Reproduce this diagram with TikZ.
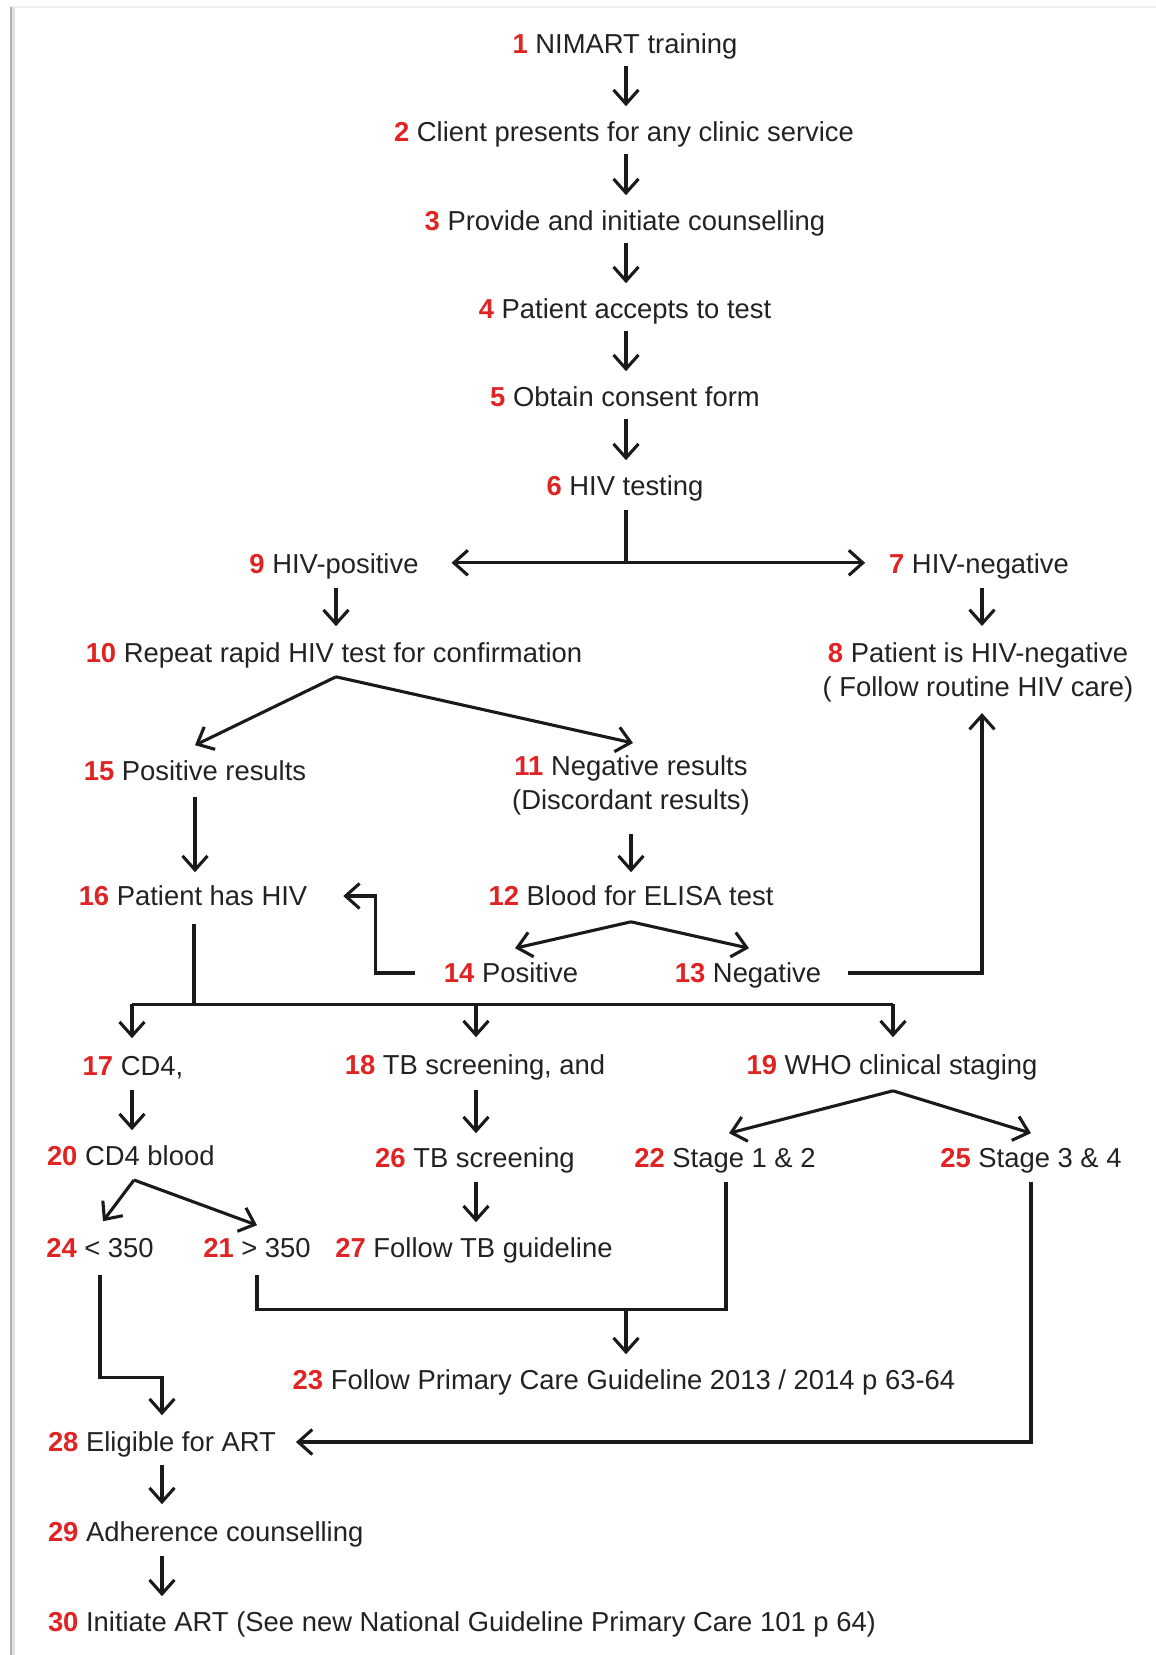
\documentclass[tikz,border=0pt]{standalone}
\usepackage{fontspec}
\setmainfont{Liberation Sans}
\usetikzlibrary{arrows.meta,calc}
\definecolor{txt}{HTML}{222222}
\definecolor{num}{HTML}{E02424}
\definecolor{ln}{HTML}{1A1A1A}
\newcommand{\nb}[1]{\textbf{\textcolor{num}{#1}}}
\begin{document}
\begin{tikzpicture}[x=1pt,y=-1pt,
  lbl/.style={inner sep=0pt, outer sep=0pt, text=txt, font=\fontsize{27.4}{33}\selectfont, text height=19.6pt, text depth=0pt},
  ml/.style={inner sep=0pt, outer sep=0pt, text=txt, font=\fontsize{27.4}{33.5}\selectfont, align=center},
  conn/.style={draw=ln, line width=3.1pt},
  arr/.style={conn, -{Straight Barb[length=14pt,width=25pt]}},
  frameline/.style={line width=2.5pt}
]
\useasboundingbox (0,0) rectangle (1156,1655);
% frame
\draw[frameline, gray!12] (11,7) -- (1156,7);
\draw[frameline, gray!25] (13.5,7) -- (13.5,1655);
\draw[frameline, gray!60] (11,7) -- (11,1655);

% nodes
\node[lbl] (n1) at (625,44) {\nb{1} NIMART training};
\node[lbl] (n2) at (624,132) {\nb{2} Client presents for any clinic service};
\node[lbl] (n3) at (625,221) {\nb{3} Provide and initiate counselling};
\node[lbl] (n4) at (625,309) {\nb{4} Patient accepts to test};
\node[lbl] (n5) at (625,397) {\nb{5} Obtain consent form};
\node[lbl] (n6) at (625,486) {\nb{6} HIV testing};
\node[lbl] (n9) at (334,564) {\nb{9} HIV-positive};
\node[lbl] (n7) at (979,564) {\nb{7} HIV-negative};
\node[lbl] (n10) at (334,653) {\nb{10} Repeat rapid HIV test for confirmation};
\node[ml, anchor=north] (n8) at (978,643) {\nb{8} Patient is HIV-negative\\( Follow routine HIV care)};
\node[lbl] (n15) at (195,771) {\nb{15} Positive results};
\node[ml, anchor=north] (n11) at (631,756) {\nb{11} Negative results\\(Discordant results)};
\node[lbl] (n16) at (193,896) {\nb{16} Patient has HIV};
\node[lbl] (n12) at (631,896) {\nb{12} Blood for ELISA test};
\node[lbl] (n14) at (511,973) {\nb{14} Positive};
\node[lbl] (n13) at (748,973) {\nb{13} Negative};
\node[lbl] (n17) at (133,1066) {\nb{17} CD4,};
\node[lbl] (n18) at (475,1065) {\nb{18} TB screening, and};
\node[lbl] (n19) at (892,1065) {\nb{19} WHO clinical staging};
\node[lbl, anchor=west] (n20) at (47,1156) {\nb{20} CD4 blood};
\node[lbl] (n26) at (475,1158) {\nb{26} TB screening};
\node[lbl] (n22) at (725,1158) {\nb{22} Stage 1 \& 2};
\node[lbl] (n25) at (1031,1158) {\nb{25} Stage 3 \& 4};
\node[lbl] (n24) at (100,1248) {\nb{24} < 350};
\node[lbl] (n21) at (257,1248) {\nb{21} > 350};
\node[lbl] (n27) at (474,1248) {\nb{27} Follow TB guideline};
\node[lbl] (n23) at (624,1380) {\nb{23} Follow Primary Care Guideline 2013 / 2014 p 63-64};
\node[lbl, anchor=west] (n28) at (48,1442) {\nb{28} Eligible for ART};
\node[lbl, anchor=west] (n29) at (48,1532) {\nb{29} Adherence counselling};
\node[lbl, anchor=west] (n30) at (48,1622) {\nb{30} Initiate ART (See new National Guideline Primary Care 101 p 64)};

% main column
\draw[arr] ($(n1.south)+(1,12)$) -- ($(n1.south |- n2.north)+(1,-16)$);
\draw[arr] ($(n2.south)+(2,12)$) -- ($(n2.south |- n3.north)+(2,-16)$);
\draw[arr] ($(n3.south)+(1,12)$) -- ($(n3.south |- n4.north)+(1,-16)$);
\draw[arr] ($(n4.south)+(1,12)$) -- ($(n4.south |- n5.north)+(1,-16)$);
\draw[arr] ($(n5.south)+(1,12)$) -- ($(n5.south |- n6.north)+(1,-16)$);

% split at HIV testing
\coordinate (s6) at ($(n6.south)+(1,67)$);
\draw[conn] ($(n6.south)+(1,14)$) -- (s6);
\draw[arr] (s6) -- ($(n9.east |- s6)+(33,0)$);
\draw[arr] (s6) -- ($(n7.west |- s6)+(-24,0)$);

\draw[arr] ($(n9.south)+(2,14)$) -- ($(n9.south |- n10.north)+(2,-17)$);
\draw[arr] ($(n7.south)+(3,14)$) -- ($(n7.south |- n8.north)+(3,-17)$);

% split at repeat test
\coordinate (s10) at ($(n10.south)+(2,14)$);
\draw[arr] (s10) -- ($(n15.north)+(0,-16)$);
\draw[arr] (s10) -- ($(n11.north)+(2,-13)$);

\draw[arr] ($(n15.south)+(0,16)$) -- ($(n15.south |- n16.north)+(0,-14)$);
\draw[arr] ($(n11.south)+(0,19)$) -- ($(n12.north)+(0,-14)$);

% split at ELISA
\coordinate (s12) at ($(n12.south)+(0,16)$);
\draw[arr] (s12) -- ($(n14.north)+(4,-15)$);
\draw[arr] (s12) -- ($(n13.north)+(1,-15)$);

\draw[arr] ($(n14.west)+(-29,0)$) -| ($(n16.east)+(68,0)$) -- ($(n16.east)+(36,0)$);
\draw[arr] ($(n13.east)+(27,0)$) -| ($(n8.south)+(4,11)$);

% bus below Patient has HIV
\coordinate (b17) at ($(n17.north)+(-1,-52)$);
\coordinate (b18) at ($(n18.north)+(1,-51)$);
\coordinate (b19) at ($(n19.north)+(1,-51)$);
\draw[conn] ($(n16.south)+(1,18)$) -- ($(n16.south |- b17)+(1,0)$);
\draw[conn] (b17) -- (b19);
\draw[arr] (b17) -- ($(n17.north)+(-1,-18)$);
\draw[arr] (b18) -- ($(n18.north)+(1,-18)$);
\draw[arr] (b19) -- ($(n19.north)+(1,-18)$);

\draw[arr] ($(n17.south)+(-1,14)$) -- ($(n17.south |- n20.north)+(-1,-16)$);
\draw[arr] ($(n18.south)+(1,15)$) -- ($(n18.south |- n26.north)+(1,-15)$);

% split at WHO staging
\coordinate (s19) at ($(n19.south)+(1,16)$);
\draw[arr] (s19) -- ($(n22.north)+(4,-15)$);
\draw[arr] (s19) -- ($(n25.north)+(0,-15)$);

% split at CD4 blood
\coordinate (s20) at ($(n20.west)+(87,24)$);
\draw[arr] (s20) -- ($(n24.north)+(3,-17)$);
\draw[arr] (s20) -- ($(n21.north)+(0,-13)$);

\draw[arr] ($(n26.south)+(1,14)$) -- ($(n26.south |- n27.north)+(1,-16)$);

% join to guideline 23
\coordinate (j23) at ($(n23.north)+(2,-61)$);
\draw[conn] ($(n21.south)+(0,17)$) |- (j23) -| ($(n22.south)+(1,14)$);
\draw[arr] (j23) -- ($(n23.north)+(2,-16)$);

% to eligible for ART
\draw[arr] ($(n24.south)+(0,17)$) |- ($(n28.north)+(0,-55)$) -- ($(n28.north)+(0,-17)$);
\draw[arr] ($(n25.south)+(0,14)$) |- ($(n28.east)+(20,0)$);

\draw[arr] ($(n28.south)+(0,13)$) -- ($(n28.south |- n29.north)+(0,-18)$);
\draw[arr] ($(n28.south |- n29.south)+(0,14)$) -- ($(n28.south |- n30.north)+(0,-16)$);
\end{tikzpicture}
\end{document}
